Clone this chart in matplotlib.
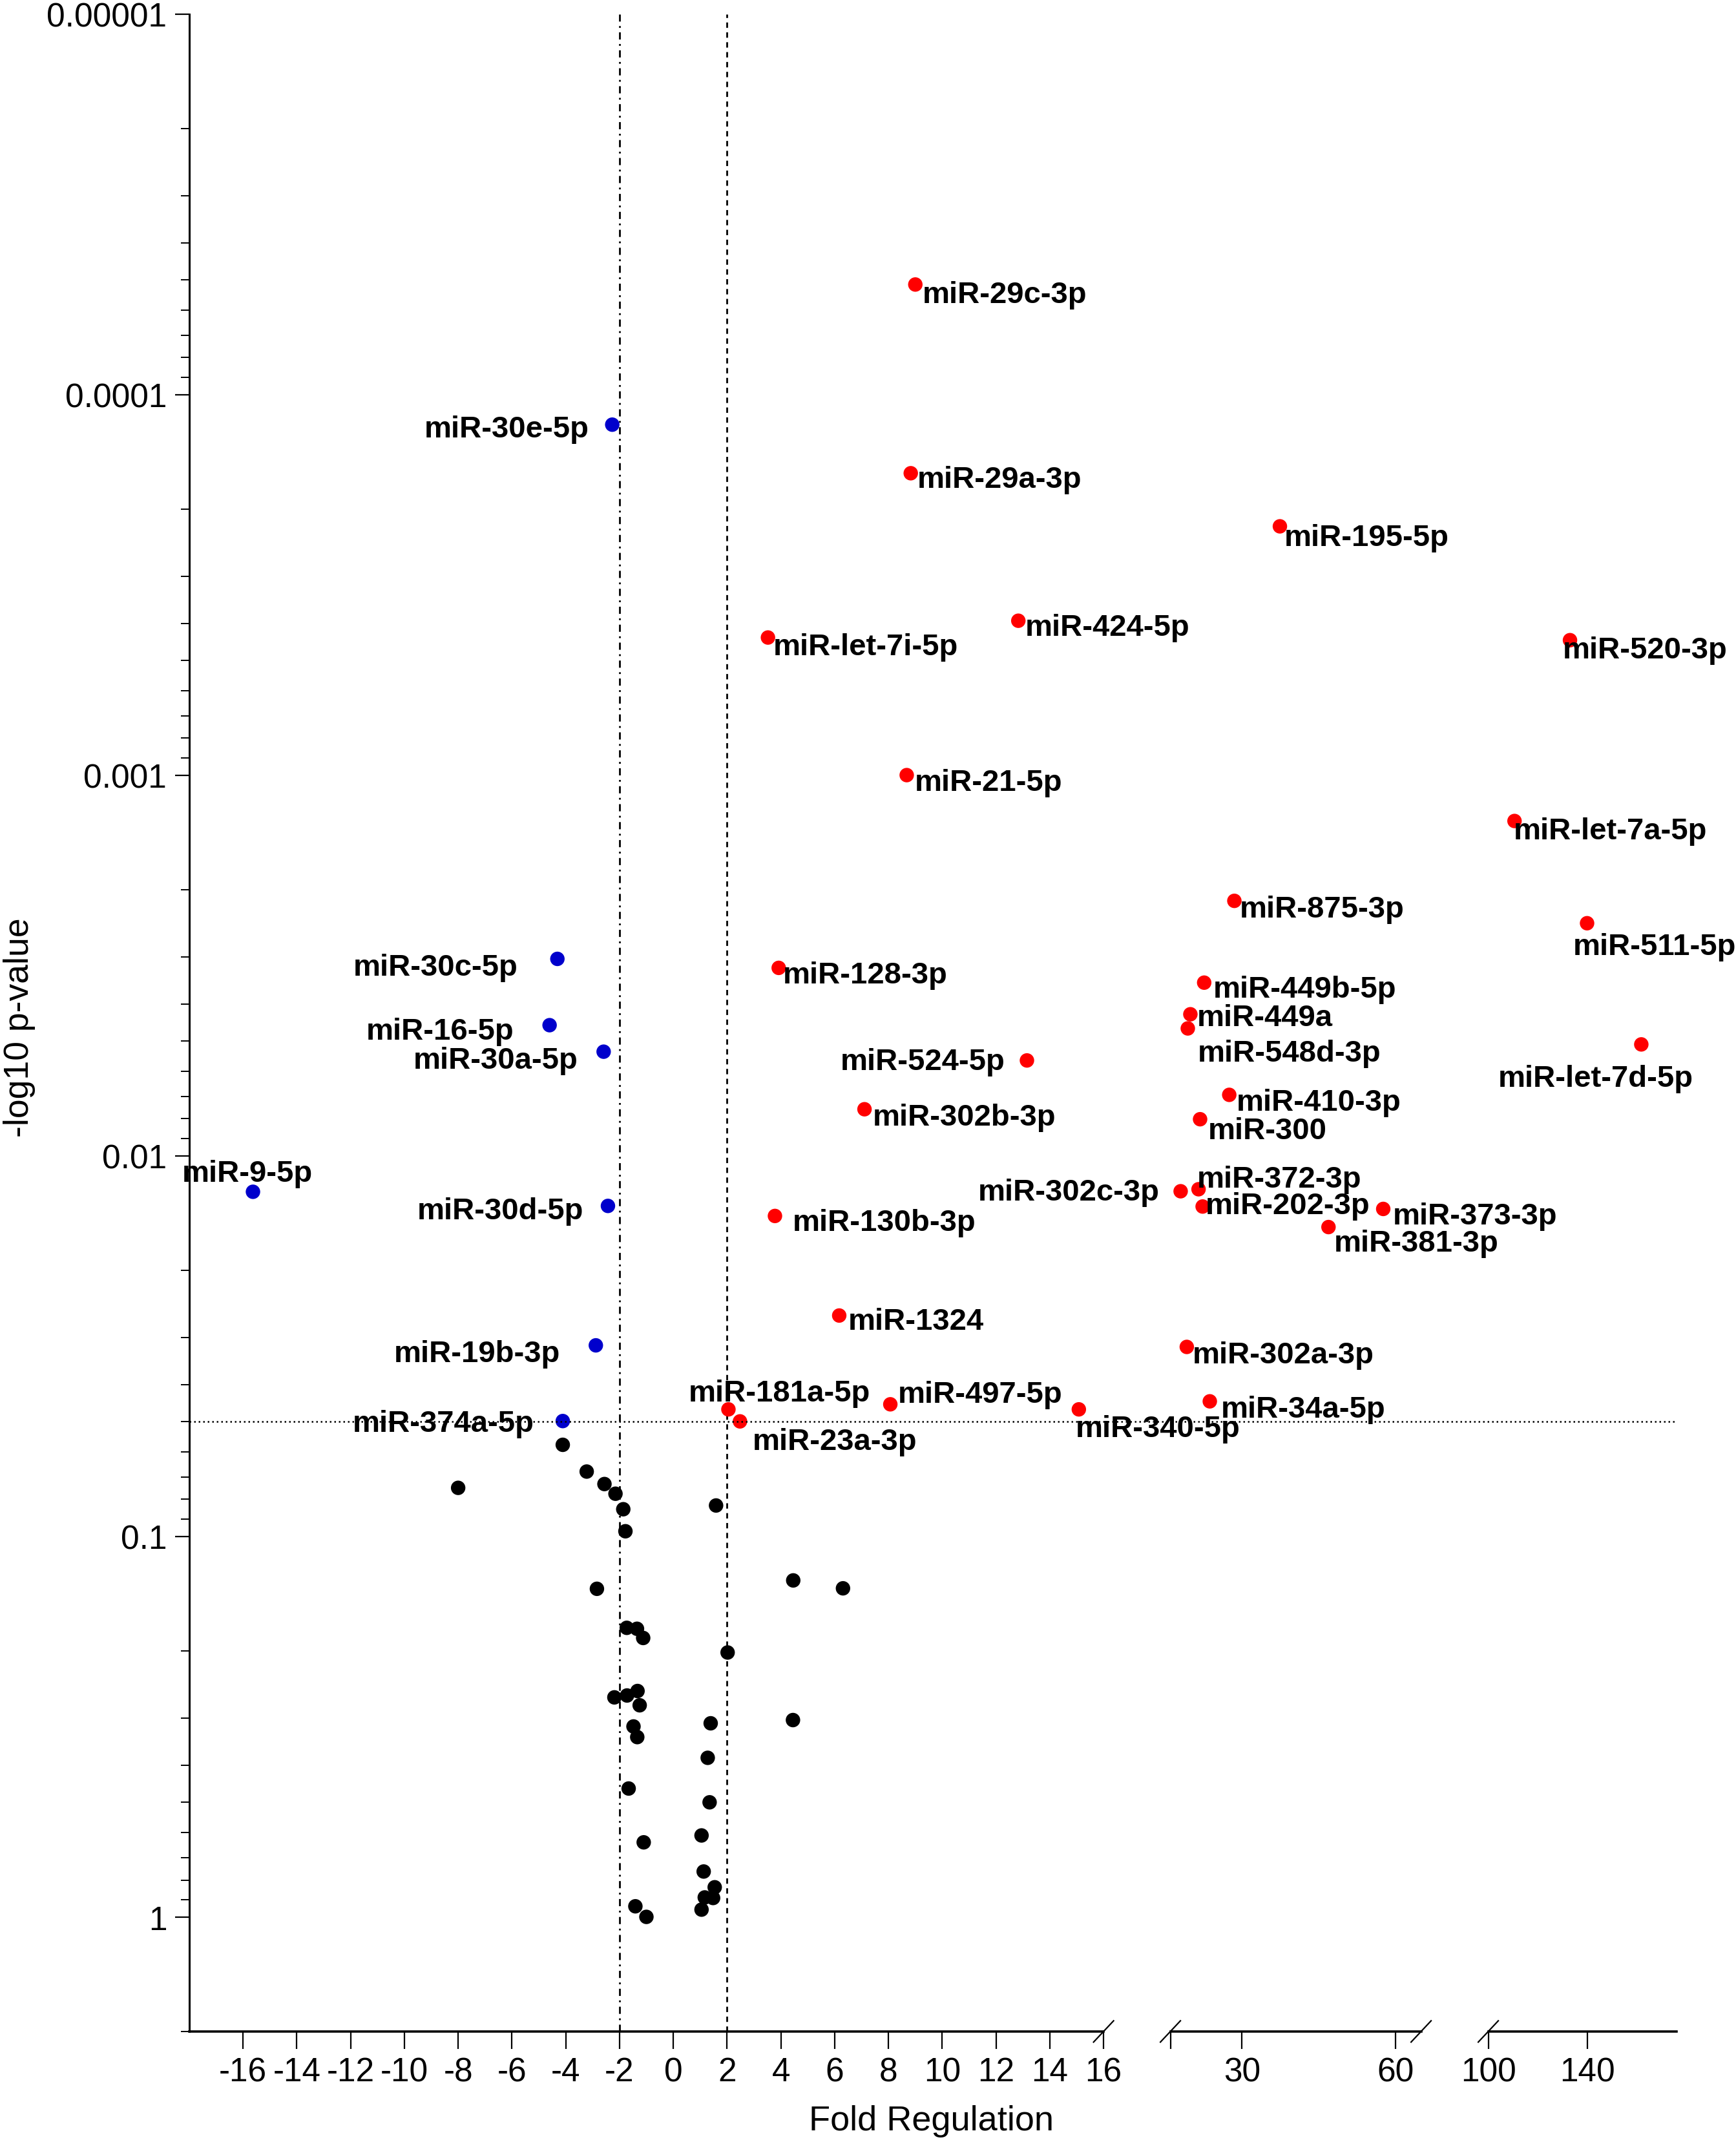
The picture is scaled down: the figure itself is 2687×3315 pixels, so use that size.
import numpy as np
import matplotlib
matplotlib.use('Agg')
import matplotlib.pyplot as plt
from matplotlib import transforms
from matplotlib.lines import Line2D

plt.rcParams['font.family'] = ['Liberation Sans', 'DejaVu Sans']

######################################################################
## DATA

## up regulated (red)
upNames = ['miR-29c-3p', 'miR-29a-3p', 'miR-195-5p', 'miR-424-5p', 'miR-let-7i-5p',
           'miR-520-3p', 'miR-21-5p', 'miR-let-7a-5p', 'miR-875-3p', 'miR-511-5p',
           'miR-128-3p', 'miR-449b-5p', 'miR-449a', 'miR-548d-3p', 'miR-let-7d-5p',
           'miR-524-5p', 'miR-410-3p', 'miR-302b-3p', 'miR-300', 'miR-372-3p',
           'miR-302c-3p', 'miR-202-3p', 'miR-373-3p', 'miR-130b-3p', 'miR-381-3p',
           'miR-1324', 'miR-302a-3p', 'miR-34a-5p', 'miR-497-5p', 'miR-181a-5p',
           'miR-340-5p', 'miR-23a-3p']
upFold = [9.00, 8.83, 37.4, 12.83, 3.52,
          133.0, 8.68, 110.6, 28.5, 139.9,
          3.92, 22.6, 19.9, 19.4, 161.8,
          13.15, 27.5, 7.11, 21.8, 21.5,
          18.0, 22.3, 57.6, 3.78, 46.9,
          6.17, 19.2, 23.7, 8.07, 2.05,
          15.08, 2.48]
upPval = [5.14e-5, 1.61e-4, 2.22e-4, 3.93e-4, 4.35e-4,
          4.42e-4, 1.00e-3, 1.32e-3, 2.14e-3, 2.45e-3,
          3.21e-3, 3.51e-3, 4.25e-3, 4.63e-3, 5.10e-3,
          5.62e-3, 6.92e-3, 7.55e-3, 8.02e-3, 0.01225,
          0.0124, 0.0136, 0.0138, 0.0144, 0.0154,
          0.0263, 0.0318, 0.0442, 0.0450, 0.0464,
          0.0464, 0.0499]

## down regulated (blue)
downNames = ['miR-30e-5p', 'miR-30c-5p', 'miR-16-5p', 'miR-30a-5p', 'miR-9-5p',
             'miR-30d-5p', 'miR-19b-3p', 'miR-374a-5p']
downFold = [-2.27, -4.31, -4.60, -2.59, -15.63, -2.43, -2.88, -4.11]
downPval = [1.20e-4, 3.04e-3, 4.54e-3, 5.33e-3, 0.01244, 0.01355, 0.0315, 0.0498]

## not significant (black)
nsFold = [-4.11, -3.22, -8.00, -2.56, -2.15, -1.86, -1.78, 1.59, -2.84, 4.46,
          6.31, -1.73, -1.35, -1.12, 2.02, -2.19, -1.72, -1.33, -1.25, 1.39,
          4.45, -1.48, -1.34, 1.28, -1.66, 1.35, -1.10, 1.05, 1.13, 1.54,
          1.17, 1.48, 1.05, -1.41, -1.00]
nsPval = [0.0575, 0.0676, 0.0746, 0.0729, 0.0773, 0.0849, 0.0970, 0.0830, 0.1374, 0.1306,
          0.137, 0.174, 0.175, 0.185, 0.202, 0.265, 0.262, 0.255, 0.278, 0.310,
          0.304, 0.316, 0.337, 0.382, 0.460, 0.500, 0.637, 0.611, 0.760, 0.836,
          0.889, 0.892, 0.957, 0.938, 1.0]

yTicks = [0.00001, 0.0001, 0.001, 0.01, 0.1, 1]
yTickLabels = ['0.00001', '0.0001', '0.001', '0.01', '0.1', '1']

######################################################################
## label placement: (dx, dy, ha) in reference screen px, dy down
labelPos = {
    'miR-30e-5p': (-17, 1, 'right'), 'miR-30c-5p': (-29, 4, 'right'),
    'miR-16-5p': (-26, 2, 'right'), 'miR-30a-5p': (-19, 4, 'right'),
    'miR-9-5p': (-52, -15.6, 'left'), 'miR-30d-5p': (-18, 1.3, 'right'),
    'miR-19b-3p': (-26, 4, 'right'), 'miR-374a-5p': (-21, -0.5, 'right'),
    'miR-29c-3p': (5, 5, 'left'), 'miR-29a-3p': (5, 2, 'left'),
    'miR-195-5p': (3, 6, 'left'), 'miR-424-5p': (5, 2.6, 'left'),
    'miR-let-7i-5p': (3.6, 4.5, 'left'), 'miR-520-3p': (-5.4, 5, 'left'),
    'miR-21-5p': (6, 3, 'left'), 'miR-let-7a-5p': (-0.5, 5, 'left'),
    'miR-875-3p': (4, 3.6, 'left'), 'miR-511-5p': (-10.4, 14.7, 'left'),
    'miR-128-3p': (3, 3, 'left'), 'miR-449b-5p': (6.5, 2.5, 'left'),
    'miR-449a': (5, 0, 'left'), 'miR-548d-3p': (7, 16, 'left'),
    'miR-let-7d-5p': (-105, 22.6, 'left'), 'miR-524-5p': (-16, -1.3, 'right'),
    'miR-410-3p': (5.4, 3, 'left'), 'miR-302b-3p': (6, 3.6, 'left'),
    'miR-300': (6, 6, 'left'), 'miR-372-3p': (-1, -9.8, 'left'),
    'miR-302c-3p': (-15.3, -1.5, 'right'), 'miR-202-3p': (2, -2.9, 'left'),
    'miR-373-3p': (7, 2.7, 'left'), 'miR-381-3p': (3.8, 9.4, 'left'),
    'miR-130b-3p': (13, 2.6, 'left'), 'miR-1324': (6.7, 2, 'left'),
    'miR-302a-3p': (4, 3.5, 'left'), 'miR-34a-5p': (8, 3.5, 'left'),
    'miR-497-5p': (5.7, -9.5, 'left'), 'miR-181a-5p': (-29, -14, 'left'),
    'miR-340-5p': (-2.4, 11.8, 'left'), 'miR-23a-3p': (9.3, 12.6, 'left'),
}
SCALE = 2.114       # reference screen px -> output px
CAPHALF = 8.0       # half cap height in screen px (baseline shift)

######################################################################
## FIGURE
fig = plt.figure(figsize=(26.87, 33.16), dpi=100)
bottom = 0.0516
top = 0.9932
height = top - bottom
ax1 = fig.add_axes([0.1090, bottom, 0.6357 - 0.1090, height])
ax2 = fig.add_axes([0.6742, bottom, 0.8186 - 0.6742, height])
ax3 = fig.add_axes([0.8573, bottom, 0.9657 - 0.8573, height])
axes = [ax1, ax2, ax3]
limits = [(-18, 16), (16, 65), (100, 176)]

def whichAx(v):
    if v <= 16:
        return 0
    if v <= 65:
        return 1
    return 2

def split(folds, pvals):
    parts = [([], []), ([], []), ([], [])]
    for fc, pv in zip(folds, pvals):
        k = whichAx(fc)
        parts[k][0].append(fc)
        parts[k][1].append(pv)
    return parts

nsParts = split(nsFold, nsPval)
upParts = split(upFold, upPval)
downParts = split(downFold, downPval)

for i, (ax, lim) in enumerate(zip(axes, limits)):
    ax.set_facecolor('none')
    ax.set_yscale('log')
    ax.set_ylim(2, 1e-5)
    ax.set_xlim(lim)
    for s in ['top', 'right']:
        ax.spines[s].set_visible(False)
    ax.spines['bottom'].set_linewidth(2.6)
    ax.tick_params(axis='x', direction='out', length=19.5, width=1.6,
                   labelsize=37, pad=8)
    for parts, col in [(nsParts, 'black'), (upParts, '#FF0000'), (downParts, '#0000CC')]:
        xs, ys = parts[i]
        if xs:
            ax.scatter(xs, ys, s=260, color=col, edgecolors='none', zorder=3,
                       clip_on=False)

ax1.spines['left'].set_linewidth(2.2)
ax1.set_yticks(yTicks)
ax1.set_yticklabels(yTickLabels)
ax1.tick_params(axis='y', which='major', direction='out', length=16, width=1.6,
                labelsize=37, pad=9)
ax1.tick_params(axis='y', which='minor', direction='out', length=9.5, width=1.4)
for ax in [ax2, ax3]:
    ax.spines['left'].set_visible(False)
    ax.tick_params(axis='y', which='both', left=False, labelleft=False)

ax1.set_xticks(np.arange(-16, 17, 2))
ax1.set_xticklabels([str(v) for v in np.arange(-16, 17, 2)])
ax2.set_xticks([16, 30, 60])
ax2.set_xticklabels(['', '30', '60'])
ax3.set_xticks([100, 140])
ax3.set_xticklabels(['100', '140'])

## threshold lines
ax1.axvline(-2, color='black', lw=2.0, linestyle=(0, (4, 2.5, 1, 2.5)), zorder=1)
ax1.axvline(2, color='black', lw=2.0, linestyle=(0, (3, 2.5)), zorder=1)
blend = transforms.blended_transform_factory(fig.transFigure, ax1.transData)
fig.add_artist(Line2D([0.1090, 0.9657], [0.05, 0.05], transform=blend,
                      color='black', lw=1.8, linestyle=(0, (1, 1.8))))

## break marks on x axis
bx = 15.5 / 2687.0
by = 16.5 / 3316.0
for xb in [0.6357, 0.6742, 0.8186, 0.8573]:
    fig.add_artist(Line2D([xb - bx, xb + bx], [bottom - by, bottom + by],
                          transform=fig.transFigure, color='black', lw=1.6))

## labels
for names, folds, pvals in [(upNames, upFold, upPval), (downNames, downFold, downPval)]:
    for name, fc, pv in zip(names, folds, pvals):
        dx, dy, ha = labelPos[name]
        axes[whichAx(fc)].annotate(name, (fc, pv),
                                   xytext=(dx * SCALE, -(dy + CAPHALF) * SCALE),
                                   textcoords='offset pixels', ha=ha, va='baseline',
                                   fontsize=34, fontweight='bold', zorder=4)

fig.text(0.5366, 0.0100, 'Fold Regulation', ha='center', va='center', fontsize=39)
fig.text(0.0112, 0.5205, '-log10 p-value', ha='center', va='center', fontsize=38.5,
         rotation=90)

plt.savefig('out.png', dpi=100)
